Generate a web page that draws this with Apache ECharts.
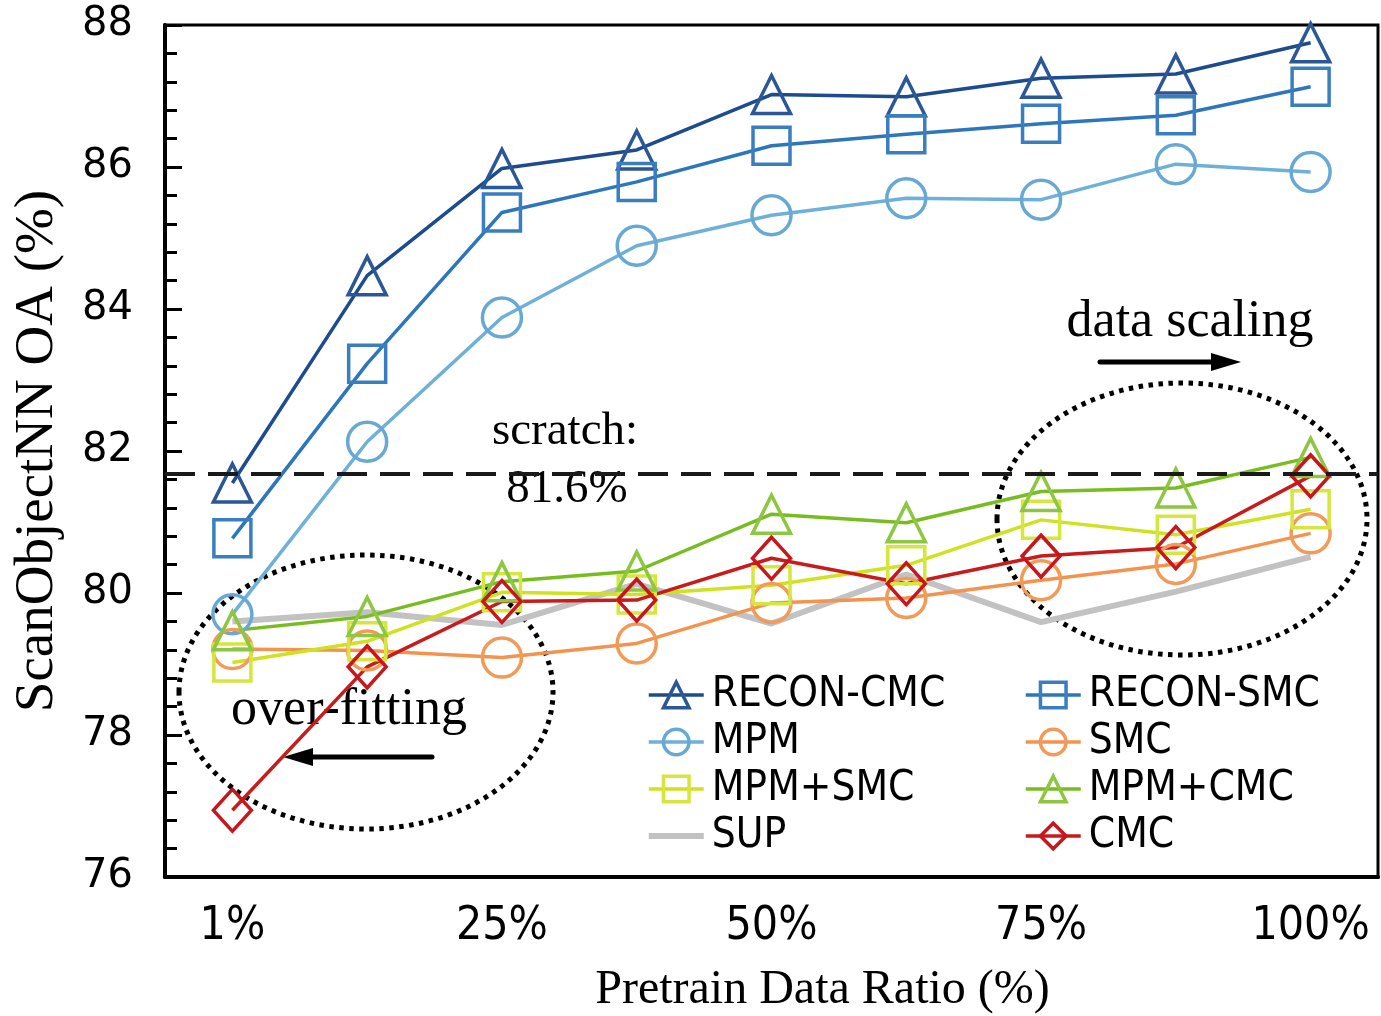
<!DOCTYPE html>
<html>
<head>
<meta charset="utf-8">
<script src="https://cdn.jsdelivr.net/npm/echarts@6/dist/echarts.min.js"></script>
<style>
html,body{margin:0;padding:0;background:#fff;}
#chart{width:1381px;height:1016px;}
</style>
</head>
<body>
<div id="chart"></div>
<script>
// ---- data ----
const categories = ['1%', '12.5%', '25%', '37.5%', '50%', '62.5%', '75%', '87.5%', '100%'];
const yTicks = [76, 78, 80, 82, 84, 86, 88];
const reconCMC = [81.55, 84.47, 85.98, 86.24, 87.02, 86.99, 87.25, 87.31, 87.75];
const reconSMC = [80.77, 83.23, 85.36, 85.79, 86.30, 86.46, 86.61, 86.73, 87.13];
const mpm      = [79.70, 82.13, 83.88, 84.89, 85.32, 85.56, 85.54, 86.04, 85.93];
const smc      = [79.21, 79.19, 79.09, 79.29, 79.86, 79.93, 80.18, 80.41, 80.84];
const mpmSMC   = [79.02, 79.32, 80.01, 79.98, 80.11, 80.39, 81.03, 80.82, 81.18];
const mpmCMC   = [79.47, 79.67, 80.16, 80.31, 81.11, 80.99, 81.43, 81.48, 81.91];
const sup      = [79.60, 79.73, 79.55, 80.13, 79.57, 80.26, 79.59, 80.02, 80.51];
const cmc      = [76.94, 78.96, 79.88, 79.90, 80.49, 80.13, 80.52, 80.64, 81.65];
const scratchValue = 81.68;
const scratchLabel = ['scratch:', '81.6%'];

const SANS = 'DejaVu Sans';
const COND = '"DejaVu Sans Condensed", "DejaVu Sans"';
const SERIF = '"Liberation Serif", "Times New Roman", serif';

function mk(name, data, lineColor, markColor, symbol, size) {
  return {
    name: name, type: 'line', data: data,
    symbol: symbol, symbolSize: size,
    showAllSymbol: true,
    lineStyle: { color: lineColor, width: 3.5 },
    itemStyle: { color: 'rgba(255,255,255,0)', borderColor: markColor, borderWidth: 3.5 },
    emphasis: { disabled: true },
    animation: false
  };
}

const series = [
  mk('RECON-CMC', reconCMC, '#1c4b8f', '#2b5797', 'triangle', 38),
  mk('RECON-SMC', reconSMC, '#2c77bb', '#3a7ec0', 'rect', 37),
  mk('MPM', mpm, '#6db0d8', '#68a9d3', 'circle', 39),
  mk('SMC', smc, '#f4934e', '#f29a58', 'circle', 39),
  mk('MPM+SMC', mpmSMC, '#cfe21f', '#d5e63c', 'rect', 37),
  mk('MPM+CMC', mpmCMC, '#78bd1f', '#8dc640', 'triangle', 38),
  {
    name: 'SUP', type: 'line', data: sup, symbol: 'none',
    lineStyle: { color: '#c2c2c2', width: 6 },
    itemStyle: { color: '#c2c2c2' },
    emphasis: { disabled: true }, animation: false, z: 1
  },
  mk('CMC', cmc, '#c81b1b', '#c8161d', 'diamond', [38, 42])
];
series[0].markLine = {
  silent: true, symbol: 'none', animation: false,
  label: { show: false },
  lineStyle: { color: '#1a1a1a', width: 4, type: [30, 13] },
  data: [{ yAxis: scratchValue }]
};

const legendCommon = {
  orient: 'vertical', itemWidth: 55, itemHeight: 32, itemGap: 5,
  lineStyle: { width: 3.5 },
  itemStyle: { borderWidth: 3.5 },
  textStyle: { fontSize: 42, lineHeight: 42, fontFamily: COND, color: '#000', padding: [0, 0, 0, 3] },
  selectedMode: false
};

const option = {
  backgroundColor: '#fff',
  animation: false,
  grid: { left: 165, right: 3, top: 25, bottom: 139, show: true, borderColor: '#000', borderWidth: 3,
          outerBoundsMode: 'none', containLabel: false },
  legend: [
    Object.assign({ left: 642, top: 669, data: ['RECON-CMC', 'MPM', 'MPM+SMC',
      { name: 'SUP', icon: 'path://M0,0 L55,0 L55,6 L0,6 Z' }] }, legendCommon),
    Object.assign({ left: 1019, top: 669, data: ['RECON-SMC', 'SMC', 'MPM+CMC', 'CMC'] }, legendCommon)
  ],
  xAxis: [
    {
      type: 'category', data: categories, boundaryGap: true,
      axisLine: { lineStyle: { color: '#000', width: 4 } },
      axisTick: { inside: true, length: 17, lineStyle: { color: '#000', width: 3 } },
      axisLabel: { interval: 1, fontSize: 46, fontFamily: COND, color: '#000', margin: 27 },
      splitLine: { show: false },
      name: 'Pretrain Data Ratio (%)', nameLocation: 'middle', nameGap: 89,
      nameTextStyle: { fontSize: 48, fontFamily: SERIF, color: '#000', padding: [0, 0, 0, 102] }
    },
    {
      type: 'category', data: categories, boundaryGap: true, position: 'bottom',
      axisLine: { show: false },
      axisTick: { inside: true, alignWithLabel: true, length: 11, lineStyle: { color: '#000', width: 3 } },
      axisLabel: { show: false }, splitLine: { show: false }
    }
  ],
  yAxis: {
    type: 'value', min: yTicks[0], max: yTicks[yTicks.length - 1], interval: 2,
    axisLine: { show: true, lineStyle: { color: '#000', width: 4 } },
    axisTick: { show: true, inside: true, length: 17, lineStyle: { color: '#000', width: 3 } },
    minorTick: { show: true, splitNumber: 5, length: 12, lineStyle: { color: '#000', width: 3 } },
    axisLabel: { fontSize: 40, fontFamily: SANS, color: '#000', margin: 32 },
    splitLine: { show: false },
    name: 'ScanObjectNN OA (%)', nameLocation: 'middle', nameGap: 100,
    nameTextStyle: { fontSize: 55, fontFamily: SERIF, color: '#000' }
  },
  graphic: [
    { type: 'ellipse', shape: { cx: 366, cy: 692, rx: 187, ry: 137 },
      style: { fill: 'rgba(0,0,0,0)', stroke: '#000', lineWidth: 5, lineDash: [4.5, 5.5] }, z: 0 },
    { type: 'ellipse', shape: { cx: 1182, cy: 519, rx: 185, ry: 136 },
      style: { fill: 'rgba(0,0,0,0)', stroke: '#000', lineWidth: 5, lineDash: [4.5, 5.5] }, z: 0 },
    { type: 'line', shape: { x1: 1100, y1: 362, x2: 1215, y2: 362 }, style: { stroke: '#000', lineWidth: 5, lineCap: 'round' }, z: 0 },
    { type: 'polygon', shape: { points: [[1241, 362], [1211, 353], [1211, 371]] }, style: { fill: '#000' }, z: 0 },
    { type: 'line', shape: { x1: 432, y1: 757, x2: 308, y2: 757 }, style: { stroke: '#000', lineWidth: 5, lineCap: 'round' }, z: 0 },
    { type: 'polygon', shape: { points: [[283, 757], [313, 748], [313, 766]] }, style: { fill: '#000' }, z: 0 },
    { type: 'text', x: 565, y: 432, style: { text: scratchLabel[0], font: '47px ' + SERIF, fill: '#000', align: 'center', verticalAlign: 'middle', textAlign: 'center', textVerticalAlign: 'middle' }, z: 0 },
    { type: 'text', x: 567, y: 490, style: { text: scratchLabel[1], font: '47px ' + SERIF, fill: '#000', align: 'center', verticalAlign: 'middle', textAlign: 'center', textVerticalAlign: 'middle' }, z: 0 },
    { type: 'text', x: 1190, y: 322, style: { text: 'data scaling', font: '52px ' + SERIF, fill: '#000', align: 'center', verticalAlign: 'middle', textAlign: 'center', textVerticalAlign: 'middle' }, z: 0 },
    { type: 'text', x: 349, y: 710, style: { text: 'over-fitting', font: '52px ' + SERIF, fill: '#000', align: 'center', verticalAlign: 'middle', textAlign: 'center', textVerticalAlign: 'middle' }, z: 0 }
  ],
  series: series
};

const chart = echarts.init(document.getElementById('chart'), null, { renderer: 'canvas' });
chart.setOption(option);
</script>
</body>
</html>
